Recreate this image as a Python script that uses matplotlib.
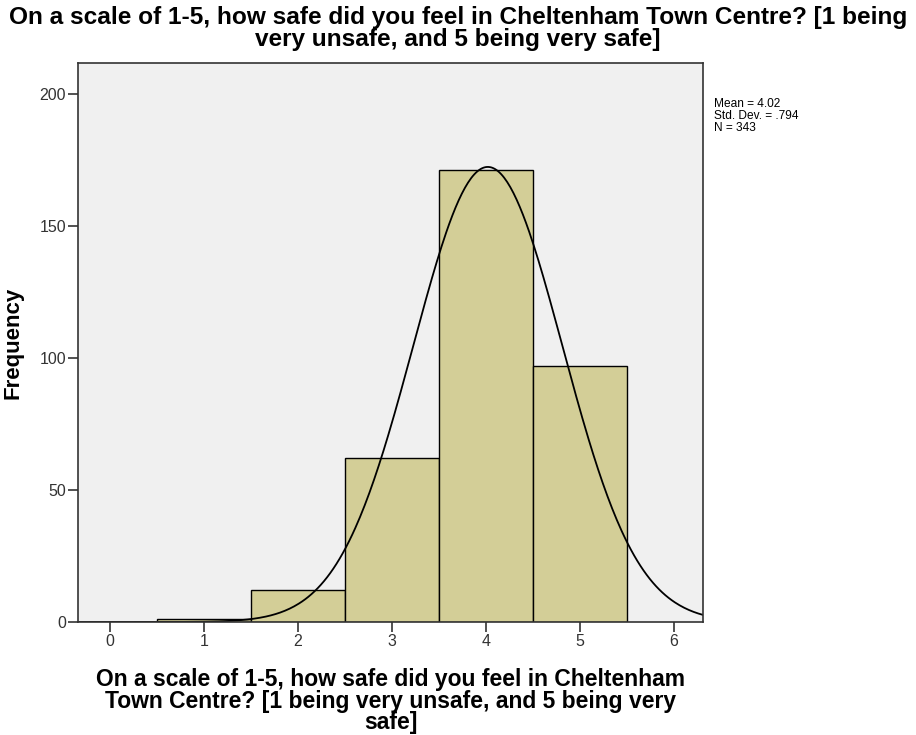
import numpy as np
import matplotlib.pyplot as plt

# survey responses, 1-5 scale
scores = [1, 2, 3, 4, 5]
counts = [1, 12, 62, 171, 97]
mean_val = 4.02
sd_val = 0.794
n_total = 343

plt.rcParams['font.family'] = ['Liberation Sans', 'DejaVu Sans']

fig = plt.figure(figsize=(9.16, 7.35), dpi=100)
ax = fig.add_axes([0.0852, 0.1537, 0.6823, 0.7606])
ax.set_facecolor('#f0f0f0')

ax.bar(scores, counts, width=1.0, color='#d3ce97', edgecolor='black', linewidth=1.0)

# normal curve scaled to counts (bin width 1)
xs = np.linspace(-0.34, 6.31, 400)
ys = n_total / (sd_val * np.sqrt(2 * np.pi)) * np.exp(-0.5 * ((xs - mean_val) / sd_val) ** 2)
ax.plot(xs, ys, color='black', linewidth=1.3)

ax.set_xlim(-0.34, 6.31)
ax.set_ylim(0, 211.7)
ax.set_xticks(range(0, 7))
ax.set_yticks([0, 50, 100, 150, 200])
ax.tick_params(direction='out', length=7, width=1.2, pad=1.5, labelsize=11.5,
               labelcolor='#333333', colors='#333333')
for s in ax.spines.values():
    s.set_color('#333333')
    s.set_linewidth(1.2)

ax.set_ylabel('Frequency', fontsize=16, fontweight='bold')
ax.yaxis.set_label_coords(-0.088, 0.5)
ax.set_xlabel('On a scale of 1-5, how safe did you feel in Cheltenham\nTown Centre? [1 being very unsafe, and 5 being very\nsafe]',
              fontsize=16.5, fontweight='bold', linespacing=0.92, labelpad=14)

fig.suptitle('On a scale of 1-5, how safe did you feel in Cheltenham Town Centre? [1 being\nvery unsafe, and 5 being very safe]',
             x=0.5, y=0.992, fontsize=17.6, fontweight='bold', linespacing=0.95)

fig.text(0.7795, 0.867, 'Mean = %.2f\nStd. Dev. = .%d\nN = %d' % (mean_val, round(sd_val * 1000), n_total),
         fontsize=8.6, va='top', ha='left', linespacing=1.0)

fig.savefig('out.png', dpi=100)
